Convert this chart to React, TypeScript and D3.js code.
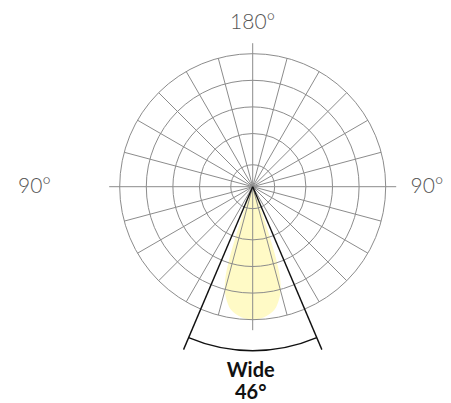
import React from "react";
import * as d3 from "d3";

const ringValues = [0.165, 0.4, 0.6, 0.8, 1.0];
const spokeAngles = d3.range(0, 360, 15);
const beamAngles = [0, 5, 10, 13.5, 15, 16, 17, 18, 18.5, 19, 19.5, 20, 21, 22, 25];
const beamValues = [1.0, 0.985, 0.94, 0.86, 0.81, 0.76, 0.69, 0.56, 0.47, 0.36, 0.23, 0.13, 0.05, 0.02, 0];
const axisLabels = [
  { text: "180°", angle: 180 },
  { text: "90°", angle: 90 },
  { text: "90°", angle: -90 },
];
const beamAngle = 46;
const beamName = "Wide";

export default function App() {
  const W = 451, H = 403;
  const cx = 252.7, cy = 186.7, R = 133;
  const r = d3.scaleLinear().domain([0, 1]).range([0, R]);
  // angle in degrees measured from "down" (0°), svg coords
  const pt = (deg: number, rad: number) => {
    const a = (deg * Math.PI) / 180;
    return [cx + rad * Math.sin(a), cy + rad * Math.cos(a)];
  };

  const beamPts: [number, number][] = [];
  for (let i = beamAngles.length - 1; i >= 0; i--) beamPts.push([-beamAngles[i], beamValues[i]]);
  for (let i = 1; i < beamAngles.length; i++) beamPts.push([beamAngles[i], beamValues[i]]);
  const beamLine = d3
    .line<[number, number]>()
    .x((d) => pt(d[0], r(d[1]))[0])
    .y((d) => pt(d[0], r(d[1]))[1])
    .curve(d3.curveCatmullRomClosed);
  const beamPath = beamLine(beamPts) || "";

  const half = beamAngle / 2;
  const lineLen = 177;
  const arcR = 164;
  const arcGen = d3.arc()({
    innerRadius: arcR,
    outerRadius: arcR,
    startAngle: Math.PI - (half * Math.PI) / 180,
    endAngle: Math.PI + (half * Math.PI) / 180,
  } as any) || "";

  const grid = "#8c8c8c";
  const textFont = "Lato, 'Open Sans', sans-serif";

  return (
    <svg width={W} height={H} style={{ position: "absolute", left: 0, top: 0 }}>
      <rect width={W} height={H} fill="#fff" />
      <path d={beamPath} fill="#fffac6" stroke="none" />
      <g stroke={grid} strokeWidth={1} fill="none">
        {ringValues.map((v, i) => (
          <circle key={i} cx={cx} cy={cy} r={r(v)} />
        ))}
        {spokeAngles.map((a) => {
          const ext = a % 90 === 0 ? 143.5 : R;
          const [x, y] = pt(a, ext);
          return <line key={a} x1={cx} y1={cy} x2={x} y2={y} />;
        })}
      </g>
      <g stroke="#111" strokeWidth={1.4} fill="none">
        {[-half, half].map((a) => {
          const [x, y] = pt(a, lineLen);
          return <line key={a} x1={cx} y1={cy} x2={x} y2={y} />;
        })}
        <path d={arcGen} transform={`translate(${cx},${cy})`} />
      </g>
      <g fontFamily={textFont} fontWeight={300} fontSize={21} fill="#555" textAnchor="middle">
        {axisLabels.map((l, i) => {
          const pos =
            l.angle === 180 ? [cx, 28.5] : l.angle === 90 ? [34.5, 193] : [427, 193];
          return (
            <text key={i} x={pos[0]} y={pos[1]}>
              {l.text}
            </text>
          );
        })}
      </g>
      <g fontFamily={textFont} fontWeight={700} fontSize={20} fill="#111" textAnchor="middle">
        <text x={cx - 2} y={376.5}>{beamName}</text>
        <text x={cx - 2} y={399}>{`${beamAngle}°`}</text>
      </g>
    </svg>
  );
}
